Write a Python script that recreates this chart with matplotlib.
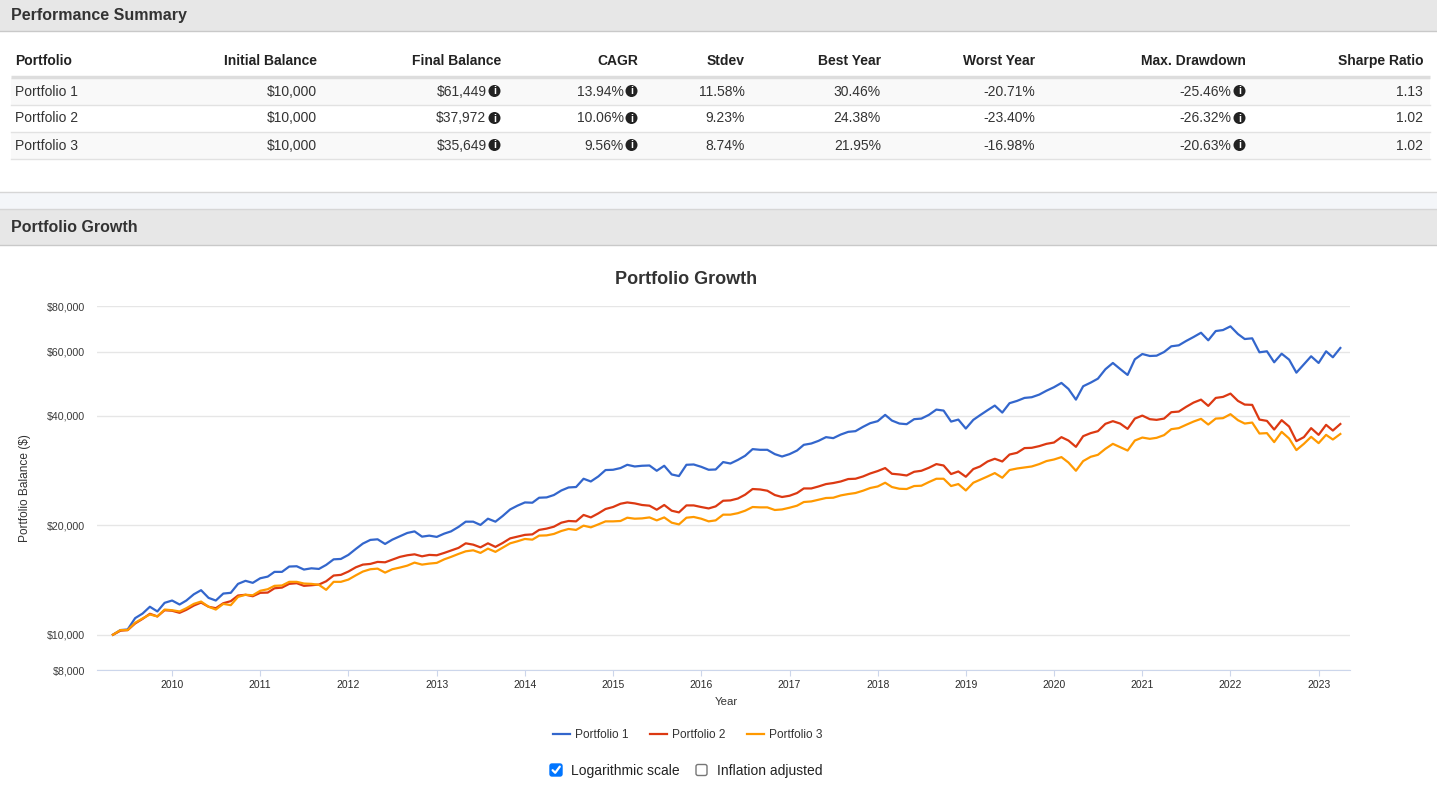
import numpy as np
import pandas as pd
import matplotlib
matplotlib.use("Agg")
import matplotlib.pyplot as plt
import matplotlib.dates as mdates
from matplotlib.patches import Rectangle, Circle, FancyBboxPatch
from matplotlib.ticker import FixedLocator, NullLocator

plt.rcParams["font.family"] = ["Liberation Sans", "DejaVu Sans"]

W, H = 1437, 786

# ---- summary table ----
table_header = ["Portfolio", "Initial Balance", "Final Balance", "CAGR", "Stdev",
                "Best Year", "Worst Year", "Max. Drawdown", "Sharpe Ratio"]
names = ["Portfolio 1", "Portfolio 2", "Portfolio 3"]
initial_balance = ["$10,000", "$10,000", "$10,000"]
final_balance = ["$61,449", "$37,972", "$35,649"]
cagr = ["13.94%", "10.06%", "9.56%"]
stdev = ["11.58%", "9.23%", "8.74%"]
best_year = ["30.46%", "24.38%", "21.95%"]
worst_year = ["-20.71%", "-23.40%", "-16.98%"]
max_drawdown = ["-25.46%", "-26.32%", "-20.63%"]
sharpe = ["1.13", "1.02", "1.02"]

# ---- monthly balances, May 2009 .. Apr 2023 ----
start_month = "2009-05-01"
p1 = [
    10000, 10300, 10340, 11110, 11440, 11940, 11590, 12240, 12420, 12110, 12420, 12920,
    13260, 12630, 12420, 12980, 13040, 13800, 14070, 13890, 14300, 14450, 14890, 14890,
    15400, 15430, 15110, 15230, 15170, 15560, 16120, 16160, 16580, 17220, 17810, 18230,
    18300, 17770, 18260, 18650, 19050, 19240, 18610, 18730, 18580, 18970, 19240, 19790,
    20460, 20460, 20040, 20850, 20460, 21210, 22110, 22640, 23110, 23070, 23810, 23860,
    24220, 24930, 25410, 25480, 26850, 26390, 27240, 28370, 28420, 28730, 29330, 29020,
    29150, 29200, 28240, 29150, 27590, 27310, 29330, 29390, 28960, 28420, 28470, 29840,
    29570, 30250, 31050, 32390, 32250, 32250, 31380, 30910, 31380, 32100, 33280, 33560,
    34130, 34940, 34720, 35520, 36130, 36290, 37290, 38170, 38660, 40230, 38810, 38080,
    37930, 39150, 39300, 40230, 41600, 41340, 38560, 39050, 36890, 38980, 40150, 41440,
    42670, 40820, 43320, 43950, 44790, 44990, 45740, 46880, 47930, 49250, 47410, 44310,
    48230, 49340, 50600, 53700, 55880, 53800, 51800, 57200, 59150, 58410, 58520, 59900,
    62100, 62490, 64210, 65860, 67670, 64500, 68400, 68830, 70460, 67120, 65030, 65320,
    59790, 60170, 56130, 59260, 57060, 52560, 55420, 58300, 55880, 60170, 57930, 61449]
p2 = [
    10000, 10260, 10300, 10740, 11060, 11420, 11230, 11680, 11640, 11490, 11710, 12030,
    12260, 11940, 11830, 12210, 12370, 12820, 12880, 12760, 13040, 13060, 13420, 13480,
    13800, 13860, 13630, 13680, 13740, 14030, 14550, 14610, 14920, 15330, 15590, 15660,
    15860, 15820, 16090, 16370, 16540, 16640, 16430, 16580, 16540, 16790, 17040, 17330,
    17840, 17690, 17390, 17840, 17440, 17880, 18410, 18610, 18820, 18880, 19420, 19580,
    19820, 20330, 20550, 20500, 21350, 21020, 21560, 22170, 22450, 22920, 23110, 22970,
    22740, 22640, 22070, 22740, 21930, 21700, 22680, 22680, 22450, 22250, 22540, 23360,
    23410, 23690, 24270, 25160, 25090, 24890, 24220, 23920, 24110, 24530, 25250, 25250,
    25570, 25960, 26130, 26390, 26800, 26850, 27240, 27760, 28190, 28730, 27710, 27590,
    27410, 28060, 28240, 28780, 29460, 29200, 27660, 28120, 27190, 28550, 29020, 29950,
    30470, 29950, 31300, 31640, 32600, 32660, 33010, 33490, 33770, 34940, 34200, 32860,
    35160, 35840, 36290, 38010, 38660, 38080, 36820, 39300, 40050, 39150, 38980, 39300,
    40920, 41080, 42310, 43480, 44310, 42590, 44790, 45080, 46030, 43950, 42940, 42860,
    39050, 38730, 36660, 38900, 37360, 34070, 34940, 36990, 35450, 37770, 36430, 37972]
p3 = [
    10000, 10300, 10300, 10790, 11090, 11370, 11230, 11730, 11680, 11590, 11830, 12160,
    12340, 11940, 11730, 12160, 12060, 12710, 12880, 12840, 13210, 13340, 13630, 13660,
    13980, 13980, 13830, 13800, 13720, 13290, 13980, 13980, 14180, 14570, 14920, 15140,
    15200, 14820, 15140, 15300, 15490, 15790, 15590, 15690, 15760, 16120, 16370, 16680,
    16960, 17070, 16790, 17250, 16900, 17360, 17840, 18070, 18340, 18260, 18730, 18760,
    18930, 19290, 19540, 19420, 19950, 19740, 20110, 20500, 20500, 20550, 20980, 20850,
    20890, 21020, 20630, 21020, 20330, 20110, 20980, 21080, 20850, 20500, 20630, 21390,
    21390, 21590, 21930, 22450, 22400, 22400, 22030, 22110, 22350, 22640, 23170, 23260,
    23510, 23770, 23810, 24160, 24370, 24530, 24890, 25320, 25570, 26180, 25480, 25200,
    25160, 25640, 25690, 26290, 26850, 26850, 25640, 25960, 24930, 26180, 26680, 27240,
    27830, 27020, 28370, 28650, 28840, 29020, 29460, 30030, 30330, 30790, 29760, 28240,
    30030, 30850, 31240, 32450, 33490, 32800, 32100, 34200, 34850, 34570, 34790, 35390,
    36750, 36990, 37770, 38560, 39230, 37840, 39300, 39400, 40410, 38900, 38080, 38320,
    35750, 35840, 33860, 36130, 34630, 32190, 33490, 35010, 33640, 35450, 34420, 35649]

y_ticks = [8000, 10000, 20000, 40000, 60000, 80000]
y_tick_labels = ["$8,000", "$10,000", "$20,000", "$40,000", "$60,000", "$80,000"]
series_colors = ["#3366cc", "#dc3912", "#ff9900"]

months = pd.date_range(start_month, periods=len(p1), freq="MS")

fig = plt.figure(figsize=(W / 100, H / 100), dpi=100)

# background "page" drawn in pixel coordinates
bg = fig.add_axes([0, 0, 1, 1])
bg.set_xlim(0, W)
bg.set_ylim(H, 0)
bg.axis("off")


def section_bar(y0, y1, title):
    bg.add_patch(Rectangle((0, y0), W, y1 - y0, fc="#e7e7e7", ec="none"))
    bg.plot([0, W], [y1, y1], color="#c9c9c9", lw=1)
    bg.text(11, (y0 + y1) / 2, title, fontsize=11.5, fontweight="bold",
            color="#333333", va="center", ha="left")


section_bar(0, 31, "Performance Summary")

# table
col_right = [None, 317, 501, 638, 745, 881, 1035, 1246, 1423]
has_icon = [False, False, True, True, False, False, False, True, False]
header_y = 61
row_y = [91, 118, 145]
row_lines = [104.5, 131.5, 158.5]

bg.text(15, header_y, table_header[0], fontsize=10, fontweight="bold",
        color="#222222", va="center", ha="left")
for c in range(1, len(table_header)):
    bg.text(col_right[c], header_y, table_header[c], fontsize=10, fontweight="bold",
            color="#222222", va="center", ha="right")

for r in (0, 2):
    top = 78 if r == 0 else row_lines[r - 1]
    bg.add_patch(Rectangle((11, top), 1419, row_lines[r] - top, fc="#f9f9f9", ec="none"))
bg.plot([11, 1430], [77, 77], color="#dddddd", lw=2.5, solid_capstyle="butt")
for yl in row_lines:
    bg.plot([11, 1430], [yl, yl], color="#e2e2e2", lw=1)

columns = [names, initial_balance, final_balance, cagr, stdev,
           best_year, worst_year, max_drawdown, sharpe]
for r in range(3):
    y = row_y[r] + 0.5
    bg.text(15, y, columns[0][r], fontsize=10, color="#333333", va="center", ha="left")
    for c in range(1, len(columns)):
        xr = col_right[c]
        if has_icon[c]:
            bg.text(xr - 14.5, y, columns[c][r], fontsize=10, color="#333333",
                    va="center", ha="right")
            bg.add_patch(Circle((xr - 6.5, y - 0.5), 6, fc="#222222", ec="none"))
            bg.text(xr - 6.5, y, "i", fontsize=7.5, fontweight="bold", color="white",
                    va="center", ha="center")
        else:
            bg.text(xr, y, columns[c][r], fontsize=10, color="#333333",
                    va="center", ha="right")

# separator band and second section bar
bg.add_patch(Rectangle((0, 192), W, 17, fc="#f4f6f9", ec="none"))
bg.plot([0, W], [192, 192], color="#d6d6d6", lw=1)
bg.plot([0, W], [209, 209], color="#d6d6d6", lw=1)
section_bar(209.5, 245, "Portfolio Growth")

# ---- chart ----
ax_l, ax_r, ax_t, ax_b = 97, 1350, 306.3, 670
ax = fig.add_axes([ax_l / W, 1 - ax_b / H, (ax_r - ax_l) / W, (ax_b - ax_t) / H])
for vals, col, name in zip([p1, p2, p3], series_colors, names):
    ax.plot(months, vals, color=col, lw=1.6, label=name, solid_joinstyle="round")

ax.set_yscale("log")
ax.set_ylim(8000, 80000)
ax.yaxis.set_major_locator(FixedLocator(y_ticks))
ax.yaxis.set_minor_locator(NullLocator())
ax.set_yticklabels(y_tick_labels)
ax.set_xlim(pd.Timestamp("2009-02-24"), pd.Timestamp("2023-05-11"))
ax.xaxis.set_major_locator(mdates.YearLocator())
ax.xaxis.set_major_formatter(mdates.DateFormatter("%Y"))
ax.xaxis.set_minor_locator(NullLocator())

ax.grid(axis="y", color="#e6e6e6", lw=1)
ax.set_axisbelow(True)
for s in ("top", "right", "left"):
    ax.spines[s].set_visible(False)
ax.spines["bottom"].set_color("#ccd6eb")
ax.tick_params(axis="x", length=4, color="#ccd6eb", labelsize=7.5, labelcolor="#2b2b2b", pad=3)
ax.tick_params(axis="y", length=0, labelsize=7.7, labelcolor="#3a3a3a", pad=8.5)

ax.set_ylabel("Portfolio Balance ($)", fontsize=8.6, color="#333333")
ax.yaxis.set_label_coords((31 - ax_l) / (ax_r - ax_l), 0.5)
ax.set_xlabel("Year", fontsize=8.2, color="#333333")
ax.xaxis.set_label_coords((726 - ax_l) / (ax_r - ax_l), -(702 - ax_b) / (ax_b - ax_t))
ax.xaxis.label.set_va("center")

ax.text((686 - ax_l) / (ax_r - ax_l), 1 + (ax_t - 279) / (ax_b - ax_t), "Portfolio Growth",
        transform=ax.transAxes, fontsize=13, fontweight="bold", color="#333333",
        ha="center", va="center")

ax.legend(loc="center", bbox_to_anchor=(688 / W, 1 - 735 / H), bbox_transform=fig.transFigure,
          ncol=3, frameon=False, fontsize=8.6, handlelength=1.4, handletextpad=0.45,
          columnspacing=1.8, labelcolor="#333333")

# checkboxes under the chart
bg.add_patch(FancyBboxPatch((550, 764), 12, 12, boxstyle="round,pad=0,rounding_size=2",
                            fc="#0075ff", ec="#0075ff", lw=1))
bg.plot([552.6, 555.2, 559.8], [770.2, 772.8, 766.6], color="white", lw=1.6,
        solid_capstyle="round", solid_joinstyle="round")
bg.text(571, 771, "Logarithmic scale", fontsize=10, color="#222222", va="center", ha="left")
bg.add_patch(FancyBboxPatch((696, 764.5), 11, 11, boxstyle="round,pad=0,rounding_size=2",
                            fc="white", ec="#767676", lw=1))
bg.text(717, 771, "Inflation adjusted", fontsize=10, color="#222222", va="center", ha="left")

fig.savefig("out.png", dpi=100)
